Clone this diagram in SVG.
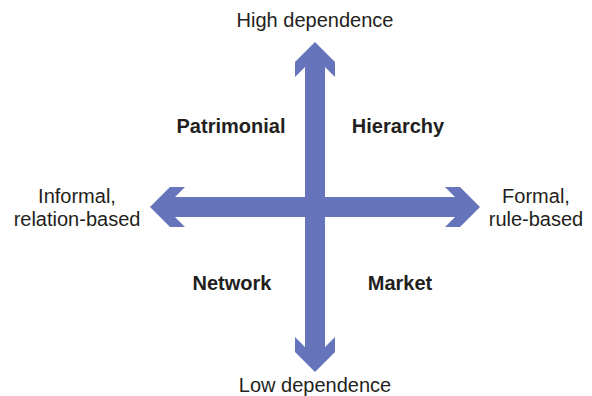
<svg xmlns="http://www.w3.org/2000/svg" width="592" height="396" viewBox="0 0 592 396">
<style>
.arrow{fill:#6675bb;stroke:none}
.lbl{font-family:"Liberation Sans",Arial,sans-serif;font-size:20px;fill:#231f20;text-anchor:middle}
.q{font-family:"Liberation Sans",Arial,sans-serif;font-size:20px;font-weight:bold;fill:#231f20;text-anchor:middle}
</style>
<rect width="592" height="396" fill="#ffffff"/>
<g id="connectors">
<polygon class="arrow" points="315,42 335,62 335,77 325,67 325,347 335,337 335,352 315,372 295,352 295,337 305,347 305,67 295,77 295,62"/>
<polygon class="arrow" points="150,207 170,187 185,187 175,197 455,197 445,187 460,187 480,207 460,227 445,227 455,217 175,217 185,227 170,227"/>
</g>
<g id="high"><text class="lbl" x="315" y="27">High dependence</text></g>
<g id="low"><text class="lbl" x="315" y="392">Low dependence</text></g>
<g id="informal"><text class="lbl" x="77" y="203">Informal,</text><text class="lbl" x="77" y="226">relation-based</text></g>
<g id="formal"><text class="lbl" x="536" y="203">Formal,</text><text class="lbl" x="536" y="226">rule-based</text></g>
<g id="patrimonial"><text class="q" x="231" y="133">Patrimonial</text></g>
<g id="hierarchy"><text class="q" x="398" y="133">Hierarchy</text></g>
<g id="network"><text class="q" x="232" y="290">Network</text></g>
<g id="market"><text class="q" x="400" y="290">Market</text></g>
</svg>
